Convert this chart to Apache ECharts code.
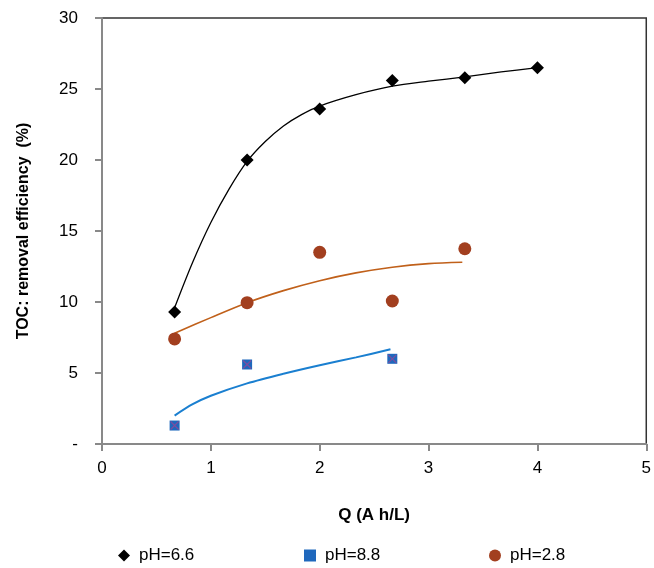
<!DOCTYPE html>
<html>
<head>
<meta charset="utf-8">
<script src="https://cdn.jsdelivr.net/npm/echarts@6/dist/echarts.min.js"></script>
<style>
html,body{margin:0;padding:0;background:#fff;}
#chart{width:654px;height:568px;}
</style>
</head>
<body>
<div id="chart"></div>
<script>
// Measured points
var qValues66 = [0.667, 1.333, 2.0, 2.667, 3.333, 4.0];
var toc66 = [9.3, 20.0, 23.6, 25.6, 25.8, 26.5];
var qValues88 = [0.667, 1.333, 2.667];
var toc88 = [1.3, 5.6, 6.0];
var qValues28 = [0.667, 1.333, 2.0, 2.667, 3.333];
var toc28 = [7.4, 9.95, 13.5, 10.07, 13.75];

// Trend lines
var fit66X = [0.667, 0.833, 1.0, 1.167, 1.333, 1.5, 1.667, 1.833, 2.0, 2.333, 2.667, 3.0, 3.333, 3.667, 4.0];
var fit66Y = [9.6, 12.8, 15.6, 17.95, 19.9, 21.3, 22.4, 23.2, 23.8, 24.6, 25.2, 25.55, 25.85, 26.2, 26.5];
var fit88X = [0.667, 0.833, 1.0, 1.333, 1.667, 2.0, 2.333, 2.65];
var fit88Y = [2.0, 2.8, 3.4, 4.27, 4.95, 5.55, 6.1, 6.67];
var fit28X = [0.667, 1.0, 1.333, 1.667, 2.0, 2.333, 2.667, 3.0, 3.31];
var fit28Y = [7.8, 8.9, 9.95, 10.8, 11.5, 12.05, 12.45, 12.7, 12.8];

var seriesNames = ['pH=6.6', 'pH=8.8', 'pH=2.8'];
var yTickValues = [0, 5, 10, 15, 20, 25, 30];
var yTickLabels = ['-', '5', '10', '15', '20', '25', '30'];
var xTickLabels = ['0', '1', '2', '3', '4', '5'];
var xTitle = 'Q (A h/L)';
var yTitle = 'TOC: removal efficiency  (%)';

function zip(xs, ys) { return xs.map(function (x, i) { return [x, ys[i]]; }); }

var FONT = "'Liberation Sans', Arial, sans-serif";
var axisGray = '#898989';
var legendLefts = [113, 299, 484];

function legendFor(name, i, icon) {
  return {
    data: [{name: name, icon: icon}],
    left: legendLefts[i], top: 542,
    itemWidth: 12, itemHeight: 12,
    textStyle: {fontFamily: FONT, fontSize: 17, color: '#000', padding: [0, 0, 0, 4]}
  };
}

var chart = echarts.init(document.getElementById('chart'), null, {renderer: 'canvas'});
chart.setOption({
  animation: false,
  backgroundColor: '#fff',
  grid: {
    left: 102, top: 18, right: 7, bottom: 124,
    show: true, borderColor: '#333', borderWidth: 1.5, backgroundColor: 'transparent'
  },
  xAxis: {
    type: 'value', min: 0, max: 5, interval: 1,
    name: xTitle, nameLocation: 'middle', nameGap: 63,
    nameTextStyle: {fontFamily: FONT, fontSize: 17, fontWeight: 'bold', color: '#000'},
    axisLine: {show: true, onZero: false, lineStyle: {color: axisGray, width: 2}},
    axisTick: {show: true, length: 7, lineStyle: {color: axisGray, width: 2}},
    axisLabel: {margin: 16, fontFamily: FONT, fontSize: 17, color: '#000',
      formatter: function (v) { return xTickLabels[Math.round(v)]; }},
    splitLine: {show: false}
  },
  yAxis: {
    type: 'value', min: 0, max: 30, interval: 5,
    name: yTitle, nameLocation: 'middle', nameGap: 70, nameRotate: 90,
    nameTextStyle: {fontFamily: FONT, fontSize: 16, fontWeight: 'bold', color: '#000'},
    axisLine: {show: true, onZero: false, lineStyle: {color: axisGray, width: 2}},
    axisTick: {show: true, length: 7, lineStyle: {color: axisGray, width: 2}},
    axisLabel: {margin: 24, fontFamily: FONT, fontSize: 17, color: '#000',
      formatter: function (v) { return yTickLabels[yTickValues.indexOf(v)]; }},
    splitLine: {show: false}
  },
  legend: [
    legendFor(seriesNames[0], 0, 'diamond'),
    legendFor(seriesNames[1], 1, 'rect'),
    legendFor(seriesNames[2], 2, 'circle')
  ],
  series: [
    {name: 'fit66', type: 'line', data: zip(fit66X, fit66Y), smooth: 0.3, showSymbol: false,
      lineStyle: {color: '#000', width: 1.3}, z: 2, silent: true},
    {name: 'fit28', type: 'line', data: zip(fit28X, fit28Y), smooth: 0.3, showSymbol: false,
      lineStyle: {color: '#c0601a', width: 1.6}, z: 2, silent: true},
    {name: 'fit88', type: 'line', data: zip(fit88X, fit88Y), smooth: 0.3, showSymbol: false,
      lineStyle: {color: '#1a7fd0', width: 2}, z: 2, silent: true},
    {name: seriesNames[0], type: 'scatter', data: zip(qValues66, toc66), symbol: 'diamond',
      symbolSize: [13, 13], itemStyle: {color: '#000', opacity: 1}, z: 5},
    {name: seriesNames[1], type: 'scatter', data: zip(qValues88, toc88), symbol: 'rect',
      symbolSize: 10, itemStyle: {color: '#1f68bd', opacity: 1}, z: 5},
    {name: 'x88', type: 'scatter', data: zip(qValues88, toc88),
      symbol: 'path://M0,0 L10,10 M10,0 L0,10', symbolSize: 8,
      itemStyle: {color: 'rgba(0,0,0,0)', borderColor: '#7d4d9e', borderWidth: 1.2, opacity: 1}, z: 6, silent: true},
    {name: seriesNames[2], type: 'scatter', data: zip(qValues28, toc28), symbol: 'circle',
      symbolSize: 13, itemStyle: {color: '#a23f1f', opacity: 1}, z: 5}
  ]
});
</script>
</body>
</html>
